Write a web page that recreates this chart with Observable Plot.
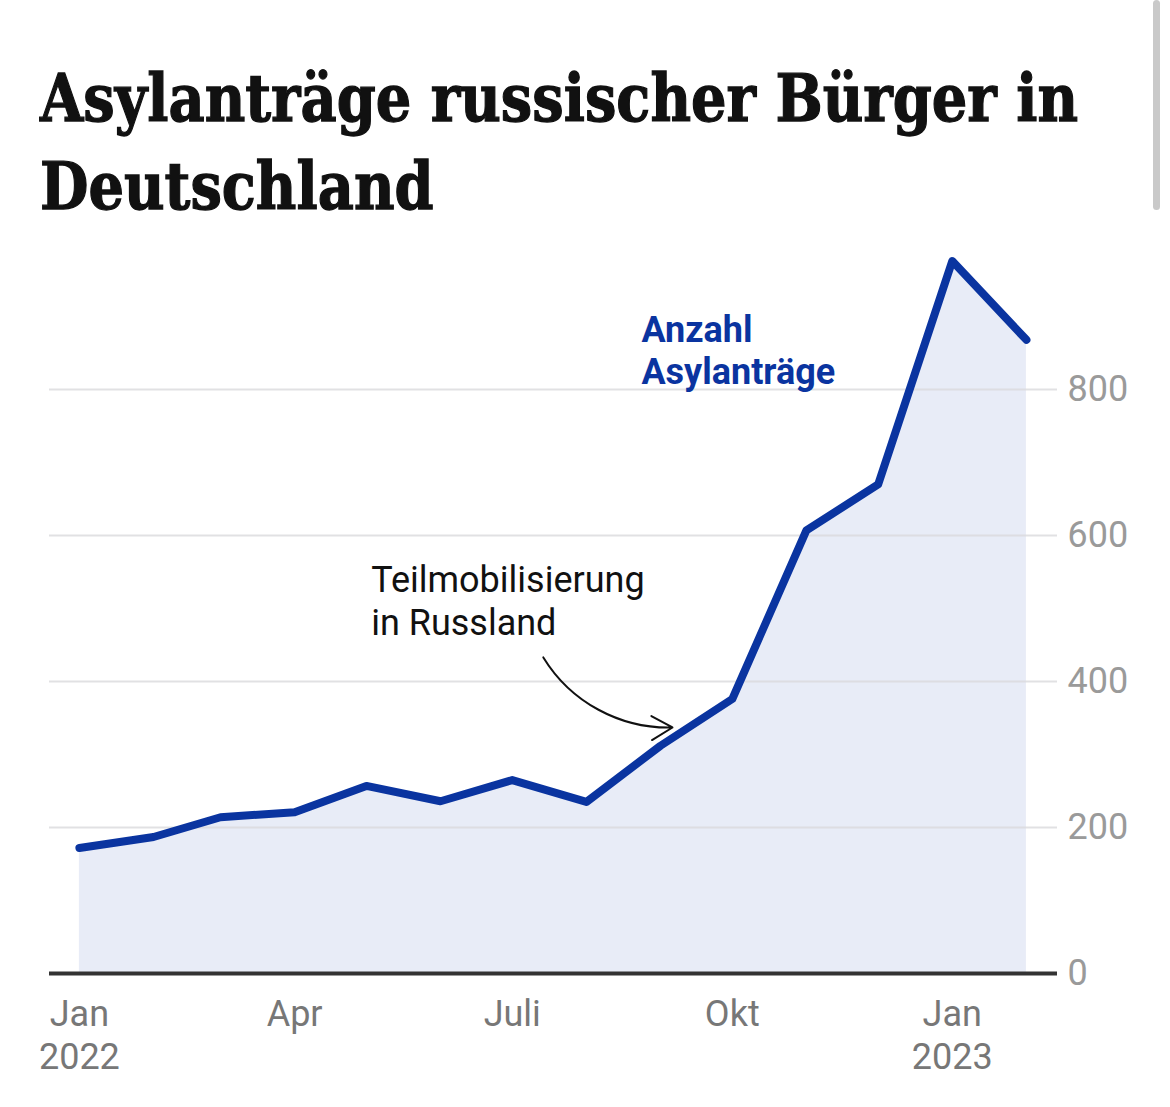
<!DOCTYPE html>
<html>
<head>
<meta charset="utf-8">
<script src="https://cdn.jsdelivr.net/npm/d3@7"></script>
<script src="https://cdn.jsdelivr.net/npm/@observablehq/plot@0.6"></script>
<style>
  html, body { margin: 0; padding: 0; background: #fff; }
  body { width: 1170px; height: 1107px; position: relative; overflow: hidden; }
  #title { position: absolute; left: 40px; top: 0; height: 240px; width: 1130px; }
  #title .ln { position: absolute; left: 0; white-space: nowrap; font-family: "DejaVu Serif", serif; font-weight: bold; font-size: 66px; color: #111; transform-origin: 0 0; -webkit-text-stroke: 1.3px #111; }
  #chart { position: absolute; left: 0; top: 240px; }
  #scroll { position: absolute; left: 1153px; top: 0; width: 7px; height: 210px; background: #c9c9c9; border-radius: 4px; }
</style>
</head>
<body>
<div id="title"><span class="ln" id="t1"></span><span class="ln" id="t2"></span></div>
<div id="chart"></div>
<div id="scroll"></div>
<script>
// ---- data ----
const titleLines = ["Asylanträge russischer Bürger in", "Deutschland"];
const months = ["2022-01-01","2022-02-01","2022-03-01","2022-04-01","2022-05-01","2022-06-01","2022-07-01","2022-08-01","2022-09-01","2022-10-01","2022-11-01","2022-12-01","2023-01-01","2023-02-01"];
const antraege = [172, 187, 214, 221, 257, 236, 265, 235, 312, 376, 607, 670, 976, 868];
const xTickDates = ["2022-01-01","2022-04-01","2022-07-01","2022-10-01","2023-01-01"];
const xTickLabels = ["Jan\n2022", "Apr", "Juli", "Okt", "Jan\n2023"];
const yTicks = [0, 200, 400, 600, 800];
const seriesLabel = "Anzahl\nAsylanträge";
const seriesLabelPos = {date: "2022-08-24", value: 906};
const noteText = "Teilmobilisierung\nin Russland";
const notePos = {date: "2022-05-03", value: 563};
const arrowFrom = {date: "2022-07-14", value: 433};
const arrowTo = {date: "2022-09-06", value: 337};
const xDomain = ["2021-12-19T12:00:00Z", "2023-02-14T00:00:00Z"];

// ---- build ----
const parse = s => new Date(s.length === 10 ? s + "T00:00:00Z" : s);
const data = months.map((m, i) => ({date: parse(m), value: antraege[i]}));
const tickMap = new Map(xTickDates.map((d, i) => [parse(d).getTime(), xTickLabels[i]]));

const blue = "#0a34a0";

const chart = Plot.plot({
  width: 1170,
  height: 867,
  marginLeft: 49,
  marginRight: 113,
  marginTop: 3,
  marginBottom: 134,
  style: {fontFamily: "Roboto, sans-serif", background: "#fff", overflow: "visible"},
  x: {type: "utc", domain: xDomain.map(parse)},
  y: {domain: [0, 1000]},
  marks: [
    Plot.areaY(data, {x: "date", y: "value", fill: "#e8ecf7"}),
    Plot.gridY(yTicks.filter(d => d > 0), {stroke: "#d9d9dc", strokeOpacity: 0.8, strokeWidth: 2}),
    Plot.ruleY([0], {stroke: "#333", strokeWidth: 4}),
    Plot.lineY(data, {x: "date", y: "value", stroke: blue, strokeWidth: 8, strokeLinecap: "round", strokeLinejoin: "round"}),
    Plot.axisX({ticks: xTickDates.map(parse), tickFormat: d => tickMap.get(d.getTime()), tickSize: 0, tickPadding: 22, fontSize: 36, lineHeight: 1.2, fill: "#777", label: null}),
    Plot.axisY({anchor: "right", ticks: yTicks, tickSize: 0, tickPadding: 10, fontSize: 36, fill: "#9a9a9a", label: null}),
    Plot.text([seriesLabelPos], {x: d => parse(d.date), y: "value", text: () => seriesLabel, textAnchor: "start", lineAnchor: "top", fontSize: 36, fontWeight: "bold", fill: blue, lineHeight: 1.17}),
    Plot.text([notePos], {x: d => parse(d.date), y: "value", text: () => noteText, textAnchor: "start", lineAnchor: "top", fontSize: 36, fill: "#111", lineHeight: 1.17}),
    Plot.arrow([{a: arrowFrom, b: arrowTo}], {x1: d => parse(d.a.date), y1: d => d.a.value, x2: d => parse(d.b.date), y2: d => d.b.value, bend: -30, stroke: "#111", strokeWidth: 2, headLength: 18})
  ]
});
document.getElementById("chart").appendChild(chart);

// ---- title ----
const t1 = document.getElementById("t1"), t2 = document.getElementById("t2");
t1.textContent = titleLines[0];
t2.textContent = titleLines[1];
const fs = 66;
t1.style.top = (126 - fs * 0.93 - 6) + "px";
t2.style.top = (214 - fs * 0.93 - 6) + "px";
const w = t1.getBoundingClientRect().width;
const k = 1038 / w;
t1.style.transform = t2.style.transform = `scaleX(${k})`;
</script>
</body>
</html>
